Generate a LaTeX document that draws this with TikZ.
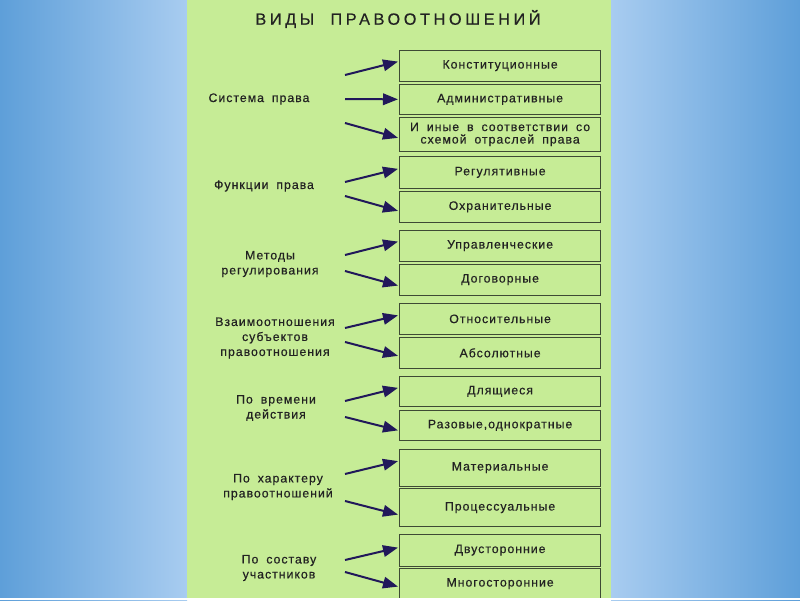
\documentclass[tikz,border=0pt]{standalone}
\usepackage{fontspec}
\setmainfont{Liberation Sans}
\newfontfamily\lblfont[LetterSpace=8,WordSpace=1.8,FakeBold=0.4]{Liberation Sans}
\newfontfamily\ttlfont[LetterSpace=22,WordSpace=2,FakeBold=0.4]{Liberation Sans}
\usetikzlibrary{arrows.meta}
\definecolor{panel}{HTML}{C6EC96}
\definecolor{bluedark}{HTML}{5E9FD9}
\definecolor{bluelight}{HTML}{A8CCF0}
\definecolor{boxline}{HTML}{3E4A34}
\definecolor{arrc}{HTML}{21185A}
\definecolor{txt}{HTML}{222222}
\tikzset{
  box/.style={draw=boxline, fill=panel, line width=1.2pt, minimum width=201pt,
    inner sep=0pt, anchor=north west, text=txt, align=center,
    font=\lblfont\fontsize{12.3}{12.5}\selectfont},
  lbl/.style={text=txt, align=center, inner sep=0pt,
    font=\lblfont\fontsize{12.3}{15}\selectfont},
  arr/.style={draw=arrc, line width=2pt, -{Triangle[length=15pt,width=11.5pt]}}
}
\begin{document}
\begin{tikzpicture}[x=1pt,y=-1pt]
\useasboundingbox (0,0) rectangle (800,600);
% background
\shade[left color=bluedark, right color=bluelight] (0,0) rectangle (187,600);
\shade[left color=bluelight, right color=bluedark] (611,0) rectangle (800,600);
\fill[panel] (187,0) rectangle (611,600);
% title
\node[text=txt, inner sep=0pt, font=\ttlfont\fontsize{16.3}{18}\selectfont] (title) at (398,19) {ВИДЫ ПРАВООТНОШЕНИЙ};
% boxes
\node[box, minimum height=31pt]   (b1)  at (399,49.5)  {Конституционные};
\node[box, minimum height=30.5pt] (b2)  at (399,83.5)  {Административные};
\node[box, minimum height=33.5pt] (b3)  at (399,117)   {И иные в соответствии со\\схемой отраслей права};
\node[box, minimum height=31.5pt] (b4)  at (399,156)   {Регулятивные};
\node[box, minimum height=31.5pt] (b5)  at (399,190.5) {Охранительные};
\node[box, minimum height=31pt]   (b6)  at (399,229.5) {Управленческие};
\node[box, minimum height=31pt]   (b7)  at (399,263.5) {Договорные};
\node[box, minimum height=31.5pt] (b8)  at (399,302.5) {Относительные};
\node[box, minimum height=31.5pt] (b9)  at (399,336.5) {Абсолютные};
\node[box, minimum height=30.5pt] (b10) at (399,375.5) {Длящиеся};
\node[box, minimum height=30.5pt] (b11) at (399,409.5) {Разовые,однократные};
\node[box, minimum height=37pt]   (b12) at (399,448.5) {Материальные};
\node[box, minimum height=38pt]   (b13) at (399,488)   {Процессуальные};
\node[box, minimum height=32pt]   (b14) at (399,533.5) {Двусторонние};
\node[box, minimum height=31pt]   (b15) at (399,567.5) {Многосторонние};
% left labels
\node[lbl] (l1) at (259,99)  {Система права};
\node[lbl] (l2) at (264,186) {Функции права};
\node[lbl] (l3) at (270,264) {Методы\\регулирования};
\node[lbl] (l4) at (275,338) {Взаимоотношения\\субъектов\\правоотношения};
\node[lbl] (l5) at (276,408) {По времени\\действия};
\node[lbl] (l6) at (278,487) {По характеру\\правоотношений};
\node[lbl] (l7) at (279,568) {По составу\\участников};
% arrow starts
\coordinate (s1) at (345,75);
\coordinate (s2) at (345,99);
\coordinate (s3) at (345,123);
\coordinate (s4) at (345,182);
\coordinate (s5) at (345,196);
\coordinate (s6) at (345,255);
\coordinate (s7) at (345,271);
\coordinate (s8) at (345,328);
\coordinate (s9) at (345,342);
\coordinate (s10) at (345,401);
\coordinate (s11) at (345,417);
\coordinate (s12) at (345,474);
\coordinate (s13) at (345,501);
\coordinate (s14) at (345,560);
\coordinate (s15) at (345,572);
% arrows
\draw[arr] (s1)  -- ([shift={(-1pt,4pt)}]b1.west);
\draw[arr] (s2)  -- ([shift={(-1pt,0pt)}]b2.west);
\draw[arr] (s3)  -- ([shift={(-1pt,-3.5pt)}]b3.west);
\draw[arr] (s4)  -- ([shift={(-1pt,3.5pt)}]b4.west);
\draw[arr] (s5)  -- ([shift={(-1pt,-4pt)}]b5.west);
\draw[arr] (s6)  -- ([shift={(-1pt,4pt)}]b6.west);
\draw[arr] (s7)  -- ([shift={(-1pt,-6pt)}]b7.west);
\draw[arr] (s8)  -- ([shift={(-1pt,3.5pt)}]b8.west);
\draw[arr] (s9)  -- ([shift={(-1pt,-3pt)}]b9.west);
\draw[arr] (s10) -- ([shift={(-1pt,3.5pt)}]b10.west);
\draw[arr] (s11) -- ([shift={(-1pt,-5pt)}]b11.west);
\draw[arr] (s12) -- ([shift={(-1pt,6.5pt)}]b12.west);
\draw[arr] (s13) -- ([shift={(-1pt,-7pt)}]b13.west);
\draw[arr] (s14) -- ([shift={(-1pt,2.5pt)}]b14.west);
\draw[arr] (s15) -- ([shift={(-1pt,-3pt)}]b15.west);
% bottom strip
\fill[white] (0,597.5) rectangle (800,600);
\end{tikzpicture}
\end{document}
